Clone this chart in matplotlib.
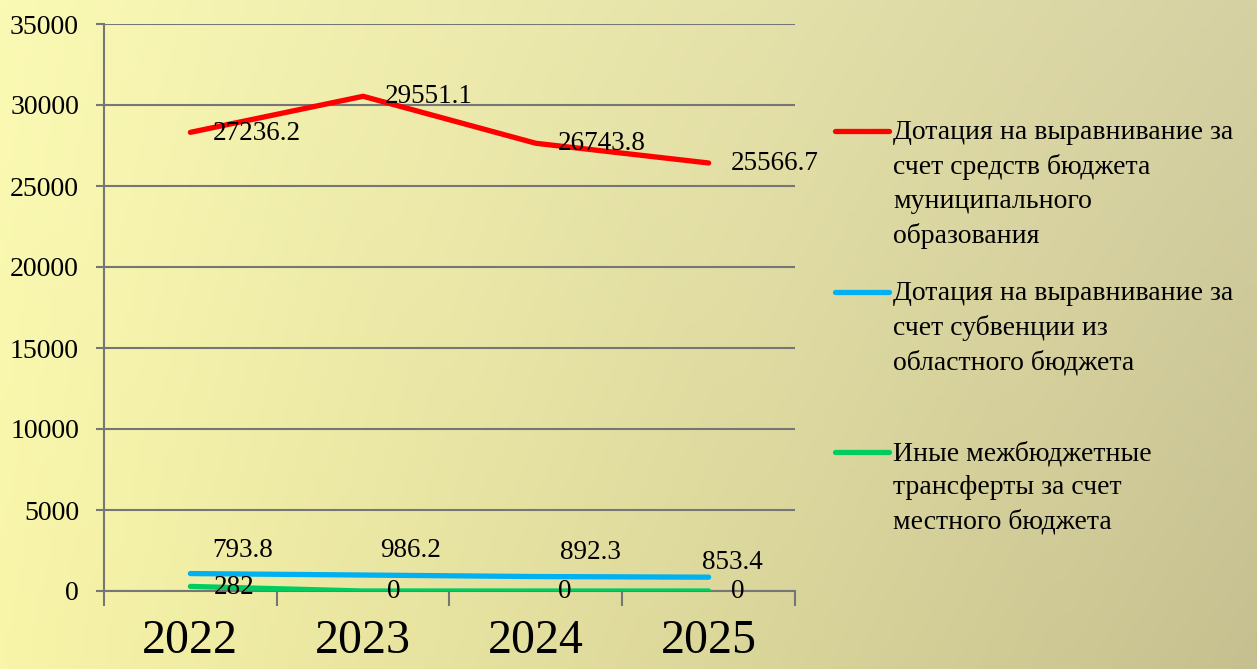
import numpy as np
import matplotlib.pyplot as plt
from matplotlib.lines import Line2D
from matplotlib.colors import to_rgb

years = ["2022", "2023", "2024", "2025"]
dotation_mo = [27236.2, 29551.1, 26743.8, 25566.7]
dotation_subv = [793.8, 986.2, 892.3, 853.4]
other_transfers = [282, 0, 0, 0]
series_names = [
    "Дотация на выравнивание за\nсчет средств бюджета\nмуниципального\nобразования",
    "Дотация на выравнивание за\nсчет субвенции из\nобластного бюджета",
    "Иные межбюджетные\nтрансферты за счет\nместного бюджета",
]

plt.rcParams['font.family'] = ['Liberation Serif', 'DejaVu Serif']

W, H = 1257, 669
fig = plt.figure(figsize=(W / 100, H / 100), dpi=100)

# background gradient
bg = fig.add_axes([0, 0, 1, 1], zorder=-10)
tl, tr = np.array(to_rgb('#FBFAB4')), np.array(to_rgb('#D6D1A3'))
bl, br = np.array(to_rgb('#F8F5A8')), np.array(to_rgb('#C6C090'))
u = np.linspace(0, 1, 200)[None, :, None]
v = np.linspace(0, 1, 120)[:, None, None]
img = (1 - v) * ((1 - u) * tl + u * tr) + v * ((1 - u) * bl + u * br)
bg.imshow(img, aspect='auto', extent=[0, 1, 0, 1])
bg.axis('off')

ax = fig.add_axes([104 / W, 1 - 591 / H, (795 - 104) / W, (591 - 24) / H])
ax.set_facecolor('none')

x = np.arange(len(years))
stacked = np.cumsum([other_transfers, dotation_subv, dotation_mo], axis=0)
raw = [other_transfers, dotation_subv, dotation_mo]
colors = ['#00CC60', '#00B0F0', '#FF0000']
offsets = [
    [(23, -1), (24, -1), (22, -1), (22, -1)],
    [(22, 23), (17, 25), (24, 24), (-7, 15)],
    [(22, -1), (22, 0), (22, 0), (22, -1)],
]
for i in range(3):
    ax.plot(x, stacked[i], color=colors[i], lw=3.8, solid_capstyle='round', zorder=3)
    for j in range(len(years)):
        ax.annotate(f"{raw[i][j]:g}", (x[j], stacked[i][j]), xytext=offsets[i][j],
                    textcoords='offset pixels', ha='left', va='center',
                    fontsize=19.5, zorder=4)

grid_c = '#767676'
ax.set_ylim(0, 35000)
ax.set_xlim(-0.5, 3.5)
ax.set_yticks(np.arange(0, 35001, 5000))
ax.yaxis.grid(True, color=grid_c, lw=1.5, zorder=1)
ax.tick_params(axis='y', length=6, width=1.5, color=grid_c, labelsize=20, pad=12)
ax.set_xticks(np.arange(-0.5, 3.6, 1))
ax.set_xticklabels([])
ax.set_xticks(x, minor=True)
ax.set_xticklabels(years, minor=True)
ax.tick_params(axis='x', which='major', length=11, width=1.5, color=grid_c)
ax.tick_params(axis='x', which='minor', length=0, labelsize=34.5, pad=20)
for s in ['top', 'right']:
    ax.spines[s].set_visible(False)
for s in ['left', 'bottom']:
    ax.spines[s].set_color(grid_c)
    ax.spines[s].set_linewidth(1.5)

# legend drawn on the right
leg_y = [131, 292, 452]
for name, c, yy in zip(series_names, colors[::-1], leg_y):
    fig.add_artist(Line2D([835 / W, 889 / W], [1 - yy / H, 1 - yy / H],
                          color=c, lw=3.8, solid_capstyle='round'))
    fig.text(893 / W, 1 - (yy - 11) / H, name, ha='left', va='top',
             fontsize=20, linespacing=1.45)

fig.savefig('out.png', dpi=100)
